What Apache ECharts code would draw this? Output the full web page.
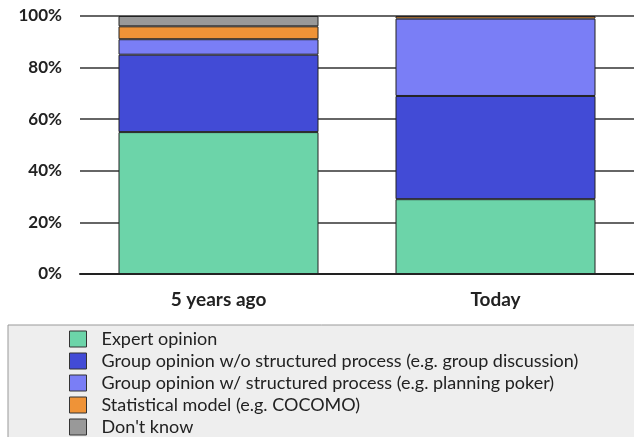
<!DOCTYPE html>
<html>
<head>
<meta charset="utf-8">
<script src="https://cdn.jsdelivr.net/npm/echarts@6/dist/echarts.min.js"></script>
<style>
  html, body { margin: 0; padding: 0; background: #fff; }
  #myChart { width: 634px; height: 437px; }
</style>
</head>
<body>
<div id="myChart"></div>
<script>
// Data
const categories = ['5 years ago', 'Today']
const seriesNames = [
  'Expert opinion',
  'Group opinion w/o structured process (e.g. group discussion)',
  'Group opinion w/ structured process (e.g. planning poker)',
  'Statistical model (e.g. COCOMO)',
  "Don't know",
]
const expertOpinion = [55, 29]
const groupNoProcess = [30, 40]
const groupWithProcess = [6, 30]
const statisticalModel = [5, 1]
const dontKnow = [4, 0]
const yTicks = [0, 20, 40, 60, 80, 100]

const colors = ['#6CD4A9', '#424BD6', '#7A7EF6', '#EF9337', '#999999']
const values = [expertOpinion, groupNoProcess, groupWithProcess, statisticalModel, dontKnow]

const chart = echarts.init(document.getElementById('myChart'))

chart.setOption({
  animation: false,
  textStyle: { fontFamily: 'Lato' },
  grid: {
    left: 80,
    right: -5,
    top: 16,
    bottom: 163,
  },
  graphic: [{
    type: 'rect',
    z: 0,
    shape: { x: 8, y: 325, width: 640, height: 130 },
    style: { fill: '#EEEEEE', stroke: '#999999', lineWidth: 1 },
  }],
  legend: {
    orient: 'vertical',
    left: 64,
    top: 325,
    height: 200,
    z: 10,
    itemWidth: 17,
    itemHeight: 16,
    itemGap: 4,
    data: seriesNames,
    icon: 'rect',
    itemStyle: { borderColor: '#333', borderWidth: 1 },
    textStyle: { fontSize: 18, color: '#222', fontFamily: 'Lato', padding: [0, 0, 0, 10] },
  },
  xAxis: {
    type: 'category',
    data: categories,
    axisLine: { lineStyle: { color: '#222', width: 2 } },
    axisTick: { show: false },
    axisLabel: {
      margin: 16,
      fontSize: 19,
      fontWeight: 'bold',
      color: '#222',
    },
  },
  yAxis: {
    type: 'value',
    min: yTicks[0],
    max: yTicks[yTicks.length - 1],
    interval: 20,
    axisLine: { show: false },
    axisTick: { show: false },
    axisLabel: {
      formatter: '{value}%',
      margin: 18,
      fontSize: 17,
      fontWeight: 'bold',
      color: '#222',
    },
    splitLine: { lineStyle: { color: '#333', width: 1.5 } },
  },
  series: seriesNames.map((name, i) => ({
    name: name,
    type: 'bar',
    stack: 'total',
    barWidth: 200,
    data: values[i].map(v => (v === 0 ? null : v)),
    itemStyle: { color: colors[i], borderColor: '#222', borderWidth: 1 },
  })),
})
</script>
</body>
</html>
